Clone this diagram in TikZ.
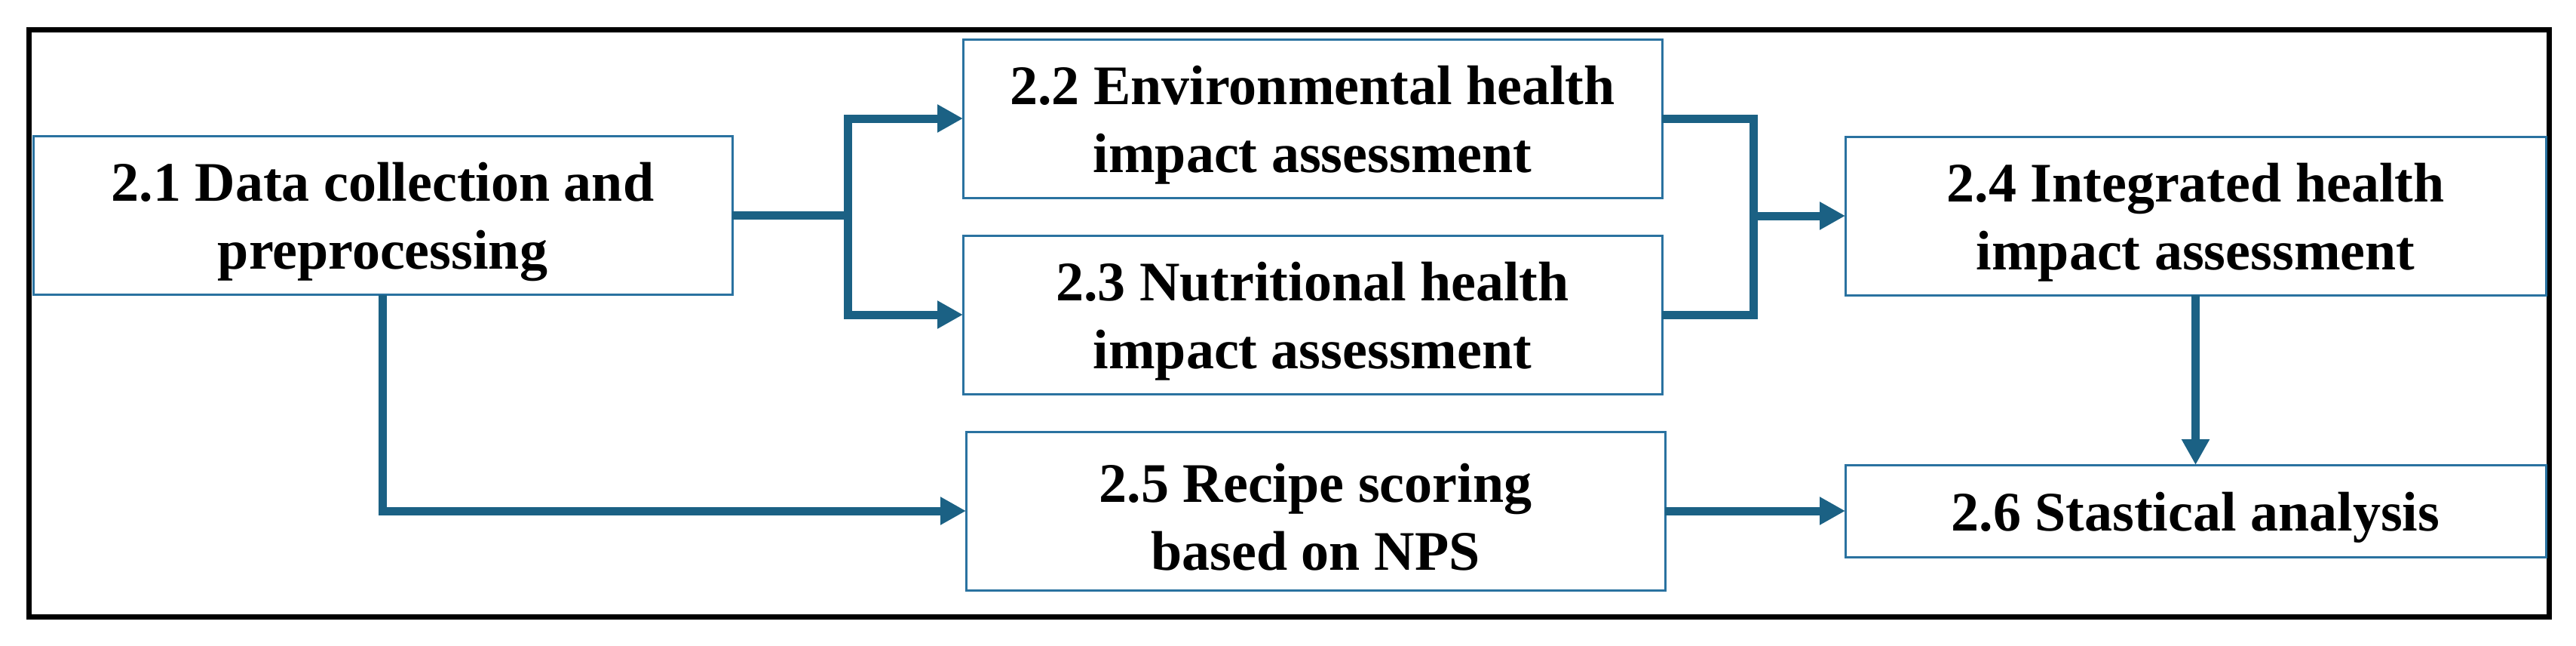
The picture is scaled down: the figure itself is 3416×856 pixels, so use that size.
\documentclass[tikz,border=0pt]{standalone}
\usepackage{fontspec}
\setmainfont{Liberation Serif}
\usetikzlibrary{arrows.meta}
\definecolor{conc}{HTML}{1B6184}
\definecolor{boxc}{HTML}{2A72A0}
\newcommand{\tstrut}{\rule{0pt}{17pt}}
\tikzset{
  box/.style={draw=boxc, line width=0.75pt, fill=white, inner sep=0pt, outer sep=0pt,
    minimum width=231.75pt, minimum height=52.5pt, align=center,
    font=\bfseries\fontsize{18.5}{22.5}\selectfont},
  conn/.style={draw=conc, line width=2.75pt},
  arr/.style={-{Triangle[length=8.5pt,width=8.75pt]}}
}
\begin{document}
\begin{tikzpicture}[x=0.25pt,y=-0.25pt]
\useasboundingbox (0,0) rectangle (3416,856);
\draw[line width=1.75pt] (38,39) rectangle (3380,817);
\node[box] (n21) at (507.5,285.5) {\tstrut 2.1 Data collection and\\preprocessing};
\node[box] (n22) at (1740.5,157) {\tstrut 2.2 Environmental health\\impact assessment};
\node[box] (n23) at (1740.5,417) {\tstrut 2.3 Nutritional health\\impact assessment};
\node[box] (n25) at (1744.5,677) {\tstrut 2.5 Recipe scoring\\based on NPS};
\node[box, minimum width=232.25pt] (n24) at (2911.5,286) {\tstrut 2.4 Integrated health\\impact assessment};
\node[box, minimum width=232.25pt, minimum height=30.5pt] (n26) at (2911.5,677) {\tstrut 2.6 Stastical analysis};
\coordinate (b1) at (1124.5,285.5);
\coordinate (m1) at (2325,286);
\draw[conn] (n21.east) -- (b1);
\draw[conn,arr] (b1) |- (n22.west);
\draw[conn,arr] (b1) |- (n23.west);
\draw[conn,arr] (n21.south) |- (n25.west);
\draw[conn] (n22.east) -| (m1);
\draw[conn] (n23.east) -| (m1);
\draw[conn,arr] (m1) -- (n24.west);
\draw[conn,arr] (n24.south) -- (n26.north);
\draw[conn,arr] (n25.east) -- (n26.west);
\end{tikzpicture}
\end{document}
